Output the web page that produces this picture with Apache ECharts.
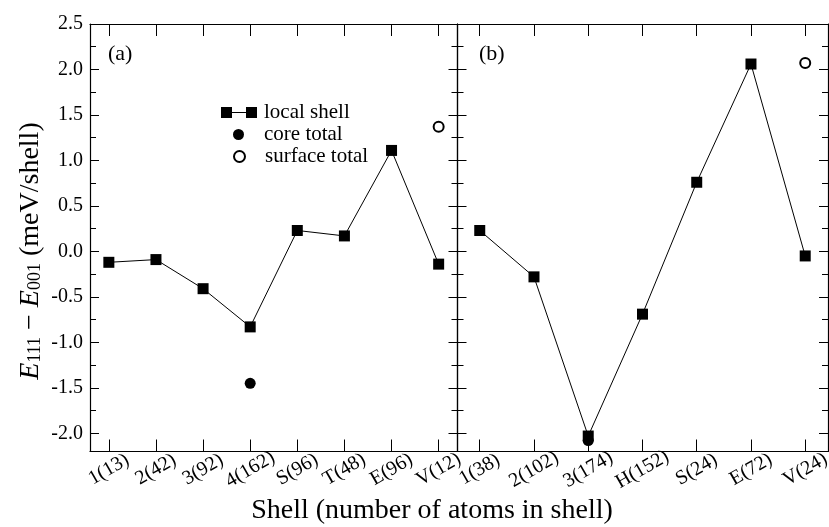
<!DOCTYPE html>
<html><head><meta charset="utf-8">
<script src="https://cdn.jsdelivr.net/npm/echarts@6/dist/echarts.min.js"></script>
<style>html,body{margin:0;padding:0;background:#fff}#c{width:829px;height:527px}</style>
</head><body><div id="c"></div><script>
// ---- data ----
const catsA = ['1(13)','2(42)','3(92)','4(162)','S(96)','T(48)','E(96)','V(12)'];
const localA = [-0.12,-0.09,-0.41,-0.83,0.23,0.17,1.11,-0.14];
const coreCatA = ['4(162)'];
const coreValA = [-1.45];
const surfCatA = ['V(12)'];
const surfValA = [1.37];

const catsB = ['1(38)','2(102)','3(174)','H(152)','S(24)','E(72)','V(24)'];
const localB = [0.23,-0.28,-2.03,-0.69,0.76,2.06,-0.05];
const coreCatB = ['3(174)'];
const coreValB = [-2.08];
const surfCatB = ['V(24)'];
const surfValB = [2.07];

const yTickLabels = [-2.0,-1.5,-1.0,-0.5,0.0,0.5,1.0,1.5,2.0,2.5];
const yMinorTicks = [-1.75,-1.25,-0.75,-0.25,0.25,0.75,1.25,1.75,2.25];

// ---- chart ----
const FONT = 'Liberation Serif';
const chart = echarts.init(document.getElementById('c'), null, {renderer:'canvas'});
const lineCol = '#000';

function pairs(cats, catList, vals){ return catList.map((c,i)=>[cats.indexOf(c)+1, vals[i]]); }
function idx(cats){ return cats.map((c,i)=>i+1); }

const grids = [
  {left:90, top:24, width:367.5, height:427.5, outerBoundsMode:'none'},
  {left:457.5, top:24, width:370.5, height:427.5, outerBoundsMode:'none'}
];

const xAxes = [], yAxes = [];
function addX(g, cats, min, max){
  xAxes.push({type:'value', gridIndex:g, position:'bottom', min, max,
    axisLine:{show:true, onZero:false, lineStyle:{color:lineCol, width:1.2}},
    axisTick:{show:true, inside:true, length:12, customValues:idx(cats), lineStyle:{color:lineCol}},
    axisLabel:{show:true, customValues:idx(cats), formatter:v=>cats[Math.round(v)-1]||'',
      rotate:30, align:'center', verticalAlign:'middle', margin:18,
      fontFamily:FONT, fontSize:20, color:'#000'},
    splitLine:{show:false}});
  xAxes.push({type:'value', gridIndex:g, position:'top', min, max,
    axisLine:{show:true, onZero:false, lineStyle:{color:lineCol, width:1.2}},
    axisTick:{show:true, inside:true, length:12, customValues:idx(cats), lineStyle:{color:lineCol}},
    axisLabel:{show:false}, splitLine:{show:false}});
}
function addY(g, labels){
  ['left','right'].forEach(pos=>{
    yAxes.push({type:'value', gridIndex:g, position:pos, min:-2.2, max:2.5,
      axisLine:{show:true, onZero:false, lineStyle:{color:lineCol, width:1.2}},
      axisTick:{show:true, inside:true, length:9, customValues:yTickLabels, lineStyle:{color:lineCol}},
      axisLabel:{show: labels && pos==='left', customValues:yTickLabels, formatter:v=>v.toFixed(1),
        margin:7, fontFamily:FONT, fontSize:20, color:'#000'},
      splitLine:{show:false}});
    yAxes.push({type:'value', gridIndex:g, position:pos, min:-2.2, max:2.5,
      axisLine:{show:false},
      axisTick:{show:true, inside:true, length:6, customValues:yMinorTicks, lineStyle:{color:lineCol}},
      axisLabel:{show:false}, splitLine:{show:false}});
  });
}
addX(0, catsA, 0.6, 8.4);
addX(1, catsB, 0.59, 7.42);
addY(0, true);
addY(1, false);

const sqSize = 11;
function panelSeries(g, cats, local, coreC, coreV, surfC, surfV){
  const xi = g*2, yi = g*4;
  return [
    {name:'local shell', type:'line', xAxisIndex:xi, yAxisIndex:yi,
      data: local.map((v,i)=>[i+1, v]), symbol:'rect', symbolSize:sqSize, showAllSymbol:true,
      lineStyle:{color:'#000', width:1}, itemStyle:{color:'#000', opacity:1}, animation:false, z:3},
    {name:'core total', type:'scatter', xAxisIndex:xi, yAxisIndex:yi,
      data: pairs(cats, coreC, coreV), symbol:'circle', symbolSize:11,
      itemStyle:{color:'#000', opacity:1}, animation:false, z:2},
    {name:'surface total', type:'scatter', xAxisIndex:xi, yAxisIndex:yi,
      data: pairs(cats, surfC, surfV), symbol:'circle', symbolSize:10,
      itemStyle:{color:'#fff', borderColor:'#000', borderWidth:2, opacity:1}, animation:false, z:2}
  ];
}

const series = [
  ...panelSeries(0, catsA, localA, coreCatA, coreValA, surfCatA, surfValA),
  ...panelSeries(1, catsB, localB, coreCatB, coreValB, surfCatB, surfValB)
];

const legendText = {fontFamily:FONT, fontSize:21, color:'#000'};
const option = {
  animation:false,
  backgroundColor:'#fff',
  grid: grids,
  xAxis: xAxes,
  yAxis: yAxes,
  series,
  legend: [
    {data:[{name:'local shell', icon:'path://M0,0H11V11H0Z M11,5H25V6H11Z M25,0H36V11H25Z'}],
     left:216, top:97, itemWidth:36, itemHeight:11, selectedMode:false, textStyle:Object.assign({padding:[0,0,0,2]}, legendText)},
    {data:[{name:'core total', icon:'circle'}], left:228, top:119, itemWidth:11, itemHeight:11,
     selectedMode:false, textStyle:Object.assign({padding:[0,0,0,15]}, legendText)},
    {data:[{name:'surface total', icon:'circle'}], left:228, top:141, itemWidth:11, itemHeight:11,
     selectedMode:false, textStyle:Object.assign({padding:[0,0,0,15]}, legendText)}
  ],
  graphic: [
    {type:'text', left:108, top:43, style:{text:'(a)', font:'22px "Liberation Serif"', fill:'#000'}},
    {type:'text', left:479, top:43, style:{text:'(b)', font:'22px "Liberation Serif"', fill:'#000'}},
    {type:'text', x:432, y:511, style:{text:'Shell (number of atoms in shell)', font:'28px "Liberation Serif"',
      fill:'#000', textAlign:'center', textVerticalAlign:'middle'}},
    {type:'text', x:29, y:251, rotation:Math.PI/2,
      style:{text:'{i|E}{s|111}{n| − }{i|E}{s|001}{n| (meV/shell)}', fill:'#000',
        textAlign:'center', textVerticalAlign:'middle',
        rich:{
          i:{fontFamily:FONT, fontSize:28, fontStyle:'italic', lineHeight:31, verticalAlign:'bottom'},
          n:{fontFamily:FONT, fontSize:28, lineHeight:31, verticalAlign:'bottom'},
          s:{fontFamily:FONT, fontSize:18, lineHeight:13, verticalAlign:'bottom'}
        }}}
  ]
};
chart.setOption(option);
</script></body></html>
